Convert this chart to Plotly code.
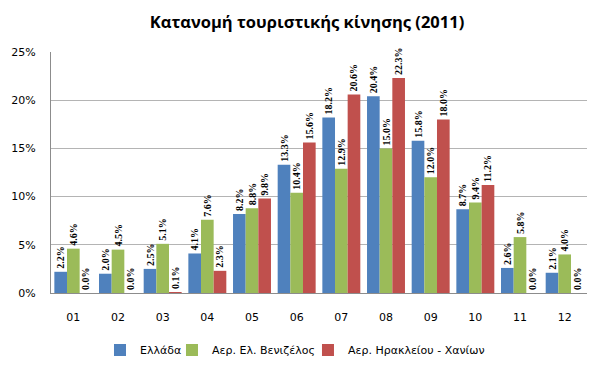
import plotly.graph_objects as go

months = ["01", "02", "03", "04", "05", "06", "07", "08", "09", "10", "11", "12"]
ellada = [2.2, 2.0, 2.5, 4.1, 8.2, 13.3, 18.2, 20.4, 15.8, 8.7, 2.6, 2.1]
venizelos = [4.6, 4.5, 5.1, 7.6, 8.8, 10.4, 12.9, 15.0, 12.0, 9.4, 5.8, 4.0]
her_chania = [0.0, 0.0, 0.1, 2.3, 9.8, 15.6, 20.6, 22.3, 18.0, 11.2, 0.0, 0.0]

series = [
    ("Ελλάδα", ellada, "#4F81BD", "legend"),
    ("Αερ. Ελ. Βενιζέλος", venizelos, "#9BBB59", "legend2"),
    ("Αερ. Ηρακλείου - Χανίων", her_chania, "#C0504D", "legend3"),
]

fig = go.Figure()
for name, vals, color, lg in series:
    fig.add_trace(go.Bar(
        x=months, y=vals, name=name, legend=lg,
        marker=dict(color=color, line=dict(width=0)),
        text=[f"{v:.1f}%" for v in vals],
        textposition="outside",
        textangle=-90,
        constraintext="none",
        cliponaxis=False,
        textfont=dict(family="Liberation Serif", size=10, color="black", weight="bold"),
        hoverinfo="skip",
    ))

legfont = dict(family="DejaVu Sans", size=11, color="black")
def leg(x):
    return dict(orientation="h", x=x, xanchor="left", xref="container",
                y=0.0541, yanchor="middle", yref="container",
                font=legfont, itemwidth=30, bgcolor="rgba(0,0,0,0)")

fig.update_layout(
    width=602, height=370,
    margin=dict(l=51, r=15, t=52, b=77, autoexpand=False),
    paper_bgcolor="white", plot_bgcolor="white",
    barmode="group", bargap=0.15, bargroupgap=0,
    title=dict(text="<b>Κατανομή τουριστικής κίνησης (2011)</b>",
               x=0.51, xanchor="center", y=0.94, yanchor="middle",
               font=dict(family="Open Sans", size=16.5, color="black")),
    showlegend=True,
    legend=leg(0.1661),
    legend2=leg(0.2857),
    legend3=leg(0.5116),
    xaxis=dict(showline=True, linecolor="#8c8c8c", linewidth=1, ticks="",
               automargin=False, ticklabelstandoff=14,
               tickfont=dict(family="DejaVu Sans", size=11, color="black")),
    yaxis=dict(range=[0, 25], dtick=5, ticksuffix="%", showline=True,
               linecolor="#8c8c8c", linewidth=1, gridcolor="#b4b4b4", gridwidth=1,
               ticks="", automargin=False, ticklabelstandoff=12,
               tickfont=dict(family="DejaVu Sans", size=11, color="black")),
)

fig.write_html("out.html", config={"displayModeBar": False},
               post_script="document.body.style.margin='0';")
